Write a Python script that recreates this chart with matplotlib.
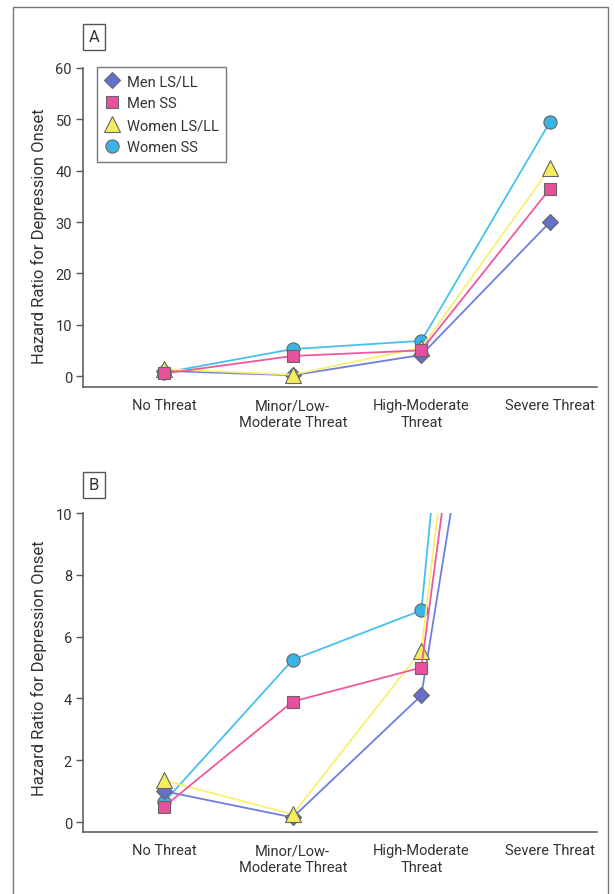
import matplotlib
matplotlib.use("Agg")
import matplotlib.pyplot as plt
from matplotlib.patches import Rectangle

plt.rcParams['font.family'] = ['Roboto', 'DejaVu Sans']

categories = ["No Threat", "Minor/Low-\nModerate Threat", "High-Moderate\nThreat", "Severe Threat"]
series_names = ["Men LS/LL", "Men SS", "Women LS/LL", "Women SS"]
men_ls_ll = [1.0, 0.15, 4.1, 30.0]
men_ss = [0.5, 3.9, 5.0, 36.5]
women_ls_ll = [1.35, 0.25, 5.55, 40.5]
women_ss = [0.65, 5.25, 6.85, 49.5]
yticks_a = [0, 10, 20, 30, 40, 50, 60]
yticks_b = [0, 2, 4, 6, 8, 10]

data = [men_ls_ll, men_ss, women_ls_ll, women_ss]
markers = ['D', 's', '^', 'o']
fills = ['#6470cc', '#e8509c', '#f4ee5c', '#3ab4e6']
lines = ['#6e7ee0', '#f0589e', '#f8f070', '#48c0ee']
msizes = [8.5, 8.2, 12, 9.5]
zorders = [4, 6, 5, 3]

W, H = 615, 895
fig = plt.figure(figsize=(W / 100, H / 100), dpi=100)
txt = '#333333'
spine = '#555555'
FS = 10.5

# outer frame
fig.patches.append(Rectangle((13 / W, -0.01), (608 - 13) / W, 1.01 - 8 / H,
                             transform=fig.transFigure, fill=False,
                             edgecolor='#777777', linewidth=1.0))

AX_L, AX_R = 83, 597


def make_axes(top, bottom, ylim, yticks, label, label_y, with_legend):
    ax = fig.add_axes([AX_L / W, (H - bottom) / H, (AX_R - AX_L) / W, (bottom - top) / H])
    x = list(range(len(categories)))
    handles = []
    for name, vals, m, fc, lc, ms, z in zip(series_names, data, markers, fills, lines, msizes, zorders):
        h, = ax.plot(x, vals, color=lc, linewidth=1.3, marker=m, markersize=ms,
                     markerfacecolor=fc, markeredgecolor='#666666', markeredgewidth=0.8,
                     label=name, zorder=z, clip_on=True)
        handles.append(h)
    ax.set_xlim(-0.63, 3.365)
    ax.set_ylim(*ylim)
    ax.set_yticks(yticks)
    ax.set_xticks(x)
    ax.set_xticklabels(categories, fontsize=FS, color=txt, linespacing=1.3)
    ax.tick_params(axis='x', length=0, pad=8)
    ax.tick_params(axis='y', length=5, width=1, color=spine, labelsize=FS, labelcolor=txt, pad=3)
    for s in ['top', 'right']:
        ax.spines[s].set_visible(False)
    for s in ['left', 'bottom']:
        ax.spines[s].set_color(spine)
        ax.spines[s].set_linewidth(1.1)
    ax.spines['left'].set_bounds(ylim[0], yticks[-1])
    fig.text(39 / W, (H - label_y) / H, label, rotation=90, ha='center', va='center',
             fontsize=12, color=txt)
    if with_legend:
        axh = bottom - top
        leg = ax.legend(handles, series_names,
                        loc='upper left', bbox_to_anchor=(14 / (AX_R - AX_L), 1 + 1 / axh),
                        borderaxespad=0, frameon=True,
                        fancybox=False, fontsize=FS, handlelength=1.0, handletextpad=0.55,
                        borderpad=0.5, labelspacing=0.55, numpoints=1)
        for lh in leg.legend_handles:
            lh.set_linestyle('none')
        leg.get_frame().set_edgecolor('#555555')
        leg.get_frame().set_linewidth(1.0)
        for t in leg.get_texts():
            t.set_color(txt)
    return ax


make_axes(69, 388, (-2.14, 60), yticks_a, "Hazard Ratio for Depression Onset", 236, True)
make_axes(514, 833, (-0.32, 10), yticks_b, "Hazard Ratio for Depression Onset", 668, False)

for lab, yc in [("A", 38), ("B", 486)]:
    fig.text(94 / W, (H - yc) / H, lab, ha='center', va='center', fontsize=12, color=txt,
             bbox=dict(boxstyle='square,pad=0.35', facecolor='white', edgecolor='#555555', linewidth=1.0))

fig.savefig("out.png", dpi=100)
